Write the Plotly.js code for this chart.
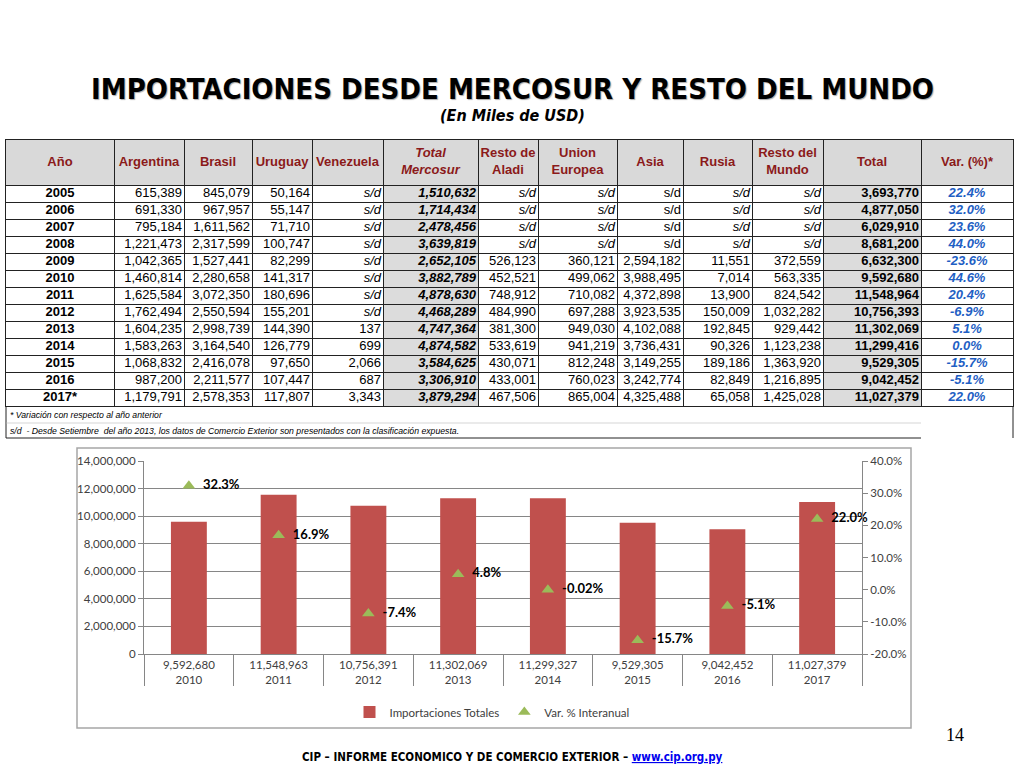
<!DOCTYPE html>
<html>
<head>
<meta charset="utf-8">
<script src="https://cdn.plot.ly/plotly-3.0.1.min.js"></script>
<style>
html,body{margin:0;padding:0;background:#fff;}
#chart{width:1024px;height:768px;}
</style>
</head>
<body>
<div id="chart"></div>
<script>
// ---------- Table data (miles de USD) ----------
var years = ['2005','2006','2007','2008','2009','2010','2011','2012','2013','2014','2015','2016','2017*'];
var argentina = [615389, 691330, 795184, 1221473, 1042365, 1460814, 1625584, 1762494, 1604235, 1583263, 1068832, 987200, 1179791];
var brasil = [845079, 967957, 1611562, 2317599, 1527441, 2280658, 3072350, 2550594, 2998739, 3164540, 2416078, 2211577, 2578353];
var uruguay = [50164, 55147, 71710, 100747, 82299, 141317, 180696, 155201, 144390, 126779, 97650, 107447, 117807];
var venezuela = [null, null, null, null, null, null, null, null, 137, 699, 2066, 687, 3343];
var totalMercosur = [1510632, 1714434, 2478456, 3639819, 2652105, 3882789, 4878630, 4468289, 4747364, 4874582, 3584625, 3306910, 3879294];
var restoAladi = [null, null, null, null, 526123, 452521, 748912, 484990, 381300, 533619, 430071, 433001, 467506];
var unionEuropea = [null, null, null, null, 360121, 499062, 710082, 697288, 949030, 941219, 812248, 760023, 865004];
var asia = [null, null, null, null, 2594182, 3988495, 4372898, 3923535, 4102088, 3736431, 3149255, 3242774, 4325488];
var rusia = [null, null, null, null, 11551, 7014, 13900, 150009, 192845, 90326, 189186, 82849, 65058];
var restoMundo = [null, null, null, null, 372559, 563335, 824542, 1032282, 929442, 1123238, 1363920, 1216895, 1425028];
var total = [3693770, 4877050, 6029910, 8681200, 6632300, 9592680, 11548964, 10756393, 11302069, 11299416, 9529305, 9042452, 11027379];
var varPct = [22.4, 32.0, 23.6, 44.0, -23.6, 44.6, 20.4, -6.9, 5.1, 0.0, -15.7, -5.1, 22.0];
var headers = ['Año','Argentina','Brasil','Uruguay','Venezuela','<i>Total</i><br><i>Mercosur</i>','Resto de<br>Aladi','Union<br>Europea','Asia','Rusia','Resto del<br>Mundo','Total','Var. (%)*'];

// ---------- Chart data ----------
var chartYears = ['2010','2011','2012','2013','2014','2015','2016','2017'];
var chartTotals = [9592680, 11548963, 10756391, 11302069, 11299327, 9529305, 9042452, 11027379];
var chartVar = [32.3, 16.9, -7.4, 4.8, -0.02, -15.7, -5.1, 22.0];
var chartVarLabels = ['32.3%','16.9%','-7.4%','4.8%','-0.02%','-15.7%','-5.1%','22.0%'];
var pctTicks = [-20, -10, 0, 10, 20, 30, 40];

// ---------- layout helpers (positions/styles, not data) ----------
var W = 1024, H = 768;
function px(x){ return x / W; }
function py(y){ return 1 - y / H; }
var colWidths = [108, 70, 68, 60, 71, 95, 60, 79, 66, 69, 71, 98, 92];
var colAlign = ['center','right','right','right','right','right','right','right','right','right','right','right','center'];
var bounds = [0];
colWidths.forEach(function(w){ bounds.push(bounds[bounds.length - 1] + w); });
var tableW = bounds[bounds.length - 1];
var headerRows = 45 / 17;   // header height in row units
var nRows = years.length;
var tblFont = 'Liberation Sans, Arial, sans-serif';

function fmt(v){ return v.toLocaleString('en-US'); }
function col(arr, italicSd){
  return arr.map(function(v){
    if(v === null) return italicSd ? '<i>s/d</i>' : 's/d';
    return fmt(v);
  });
}

var cellVals = [
  years.map(function(y){return '<b>'+y+'</b>';}),
  col(argentina, true),
  col(brasil, true),
  col(uruguay, true),
  col(venezuela, true),
  totalMercosur.map(function(v){return '<b><i>'+fmt(v)+'</i></b>';}),
  col(restoAladi, true),
  col(unionEuropea, true),
  col(asia, false),
  col(rusia, true),
  col(restoMundo, true),
  total.map(function(v){return '<b>'+fmt(v)+'</b>';}),
  varPct.map(function(v){return '<b><i>'+v.toFixed(1)+'%</i></b>';})
];
var cellColors = ['#000','#000','#000','#000','#000','#000','#000','#000','#000','#000','#000','#000','#1f5fc4'];

var traces = [];

// header text
traces.push({
  type: 'scatter', mode: 'text',
  x: headers.map(function(h, i){ return (bounds[i] + bounds[i+1]) / 2; }),
  y: headers.map(function(){ return -headerRows / 2; }),
  text: headers.map(function(h){ return '<b>' + h + '</b>'; }),
  textposition: 'middle center',
  textfont: {family: tblFont, size: 13, color: '#8b1a1a'},
  xaxis: 'x3', yaxis: 'y3', showlegend: false, hoverinfo: 'skip', cliponaxis: false
});

// body columns
cellVals.forEach(function(vals, ci){
  var center = colAlign[ci] === 'center';
  var xpos = center ? (bounds[ci] + bounds[ci+1]) / 2 : bounds[ci+1] - 2;
  traces.push({
    type: 'scatter', mode: 'text',
    x: vals.map(function(){ return xpos; }),
    y: vals.map(function(v, i){ return i + 0.5; }),
    text: vals,
    textposition: center ? 'middle center' : 'middle left',
    textfont: {family: tblFont, size: 13, color: cellColors[ci]},
    xaxis: 'x3', yaxis: 'y3', showlegend: false, hoverinfo: 'skip', cliponaxis: false
  });
});

// chart traces
var chartX = [chartYears, chartTotals.map(fmt)];
traces.push({
  type: 'bar',
  name: 'Importaciones Totales',
  x: chartX,
  y: chartTotals,
  width: 0.4,
  marker: {color: '#c0504d'},
  xaxis: 'x', yaxis: 'y',
  hoverinfo: 'skip'
});
traces.push({
  type: 'scatter',
  mode: 'markers+text',
  name: 'Var. % Interanual',
  x: chartX,
  y: chartVar,
  text: chartVarLabels.map(function(t){ return '\u00a0\u00a0' + t; }),
  textposition: 'middle right',
  textfont: {family: 'Lato, Open Sans, sans-serif', size: 13, color: '#000', weight: 'bold'},
  marker: {symbol: 'triangle-up', size: 11, color: '#9bbb59'},
  xaxis: 'x', yaxis: 'y2',
  cliponaxis: false,
  hoverinfo: 'skip'
});

var chartFont = {family: 'Lato, Open Sans, sans-serif', size: 11.5, color: '#404040'};

var shapes = [
  // table fills (below gridlines)
  {type: 'rect', xref: 'x3', yref: 'y3', layer: 'below', x0: 0, x1: tableW, y0: -headerRows, y1: 0, fillcolor: '#d9d9d9', line: {width: 0}},
  {type: 'rect', xref: 'x3', yref: 'y3', layer: 'below', x0: bounds[5], x1: bounds[6], y0: 0, y1: nRows, fillcolor: '#dcdcdc', line: {width: 0}},
  {type: 'rect', xref: 'x3', yref: 'y3', layer: 'below', x0: bounds[11], x1: bounds[12], y0: 0, y1: nRows, fillcolor: '#dcdcdc', line: {width: 0}},
  // footnote box
  {type: 'line', xref: 'paper', yref: 'paper', x0: px(6), x1: px(6), y0: py(406), y1: py(438), line: {color: '#222', width: 1}},
  {type: 'line', xref: 'paper', yref: 'paper', x0: px(1013), x1: px(1013), y0: py(406), y1: py(438), line: {color: '#222', width: 1}},
  {type: 'line', xref: 'paper', yref: 'paper', x0: px(6), x1: px(921), y0: py(423), y1: py(423), line: {color: '#bbb', width: 0.6}},
  {type: 'line', xref: 'paper', yref: 'paper', x0: px(6), x1: px(921), y0: py(438), y1: py(438), line: {color: '#222', width: 1}},
  // chart outer box
  {type: 'rect', xref: 'paper', yref: 'paper', x0: px(77), x1: px(911), y0: py(728), y1: py(448), line: {color: '#a6a6a6', width: 1.5}, fillcolor: 'rgba(0,0,0,0)'}
];

var layout = {
  width: W, height: H,
  margin: {l: 0, r: 0, t: 0, b: 0},
  paper_bgcolor: '#fff',
  plot_bgcolor: 'rgba(0,0,0,0)',
  showlegend: true,
  legend: {
    orientation: 'h', x: px(492), xanchor: 'center', y: py(712), yanchor: 'middle',
    font: chartFont, traceorder: 'normal', itemwidth: 30
  },
  // chart axes
  xaxis: {
    domain: [px(144), px(862)],
    type: 'multicategory',
    showline: true, linecolor: '#868686', linewidth: 1,
    showdividers: true, dividercolor: '#868686', dividerwidth: 1,
    tickfont: chartFont,
    ticks: '',
    anchor: 'y'
  },
  yaxis: {
    domain: [py(654), py(461)],
    range: [0, 14000000],
    dtick: 2000000,
    tickformat: ',d',
    showgrid: true, gridcolor: '#868686', gridwidth: 1,
    showline: true, linecolor: '#868686',
    ticks: 'outside', ticklen: 5, tickcolor: '#868686',
    tickfont: chartFont,
    zeroline: false,
    anchor: 'x'
  },
  yaxis2: {
    overlaying: 'y', side: 'right', anchor: 'x',
    range: [-20, 40],
    tickmode: 'array',
    tickvals: pctTicks,
    ticktext: pctTicks.map(function(v){ return v.toFixed(1) + '%'; }),
    showgrid: false, zeroline: false,
    showline: true, linecolor: '#868686',
    ticks: 'outside', ticklen: 5, tickcolor: '#868686',
    tickfont: chartFont
  },
  // table axes
  xaxis3: {
    domain: [px(6), px(6 + tableW)],
    range: [0, tableW],
    anchor: 'y3',
    tickmode: 'array', tickvals: bounds.slice(1, -1),
    showgrid: true, gridcolor: '#222', gridwidth: 1,
    showticklabels: false, ticks: '', zeroline: false,
    showline: true, mirror: true, linecolor: '#222', linewidth: 1,
    fixedrange: true
  },
  yaxis3: {
    domain: [py(406), py(140)],
    range: [nRows, -headerRows],
    anchor: 'x3',
    tickmode: 'array', tickvals: years.map(function(y, i){ return i; }),
    showgrid: true, gridcolor: '#222', gridwidth: 1,
    showticklabels: false, ticks: '', zeroline: false,
    showline: true, mirror: true, linecolor: '#222', linewidth: 1,
    fixedrange: true
  },
  shapes: shapes,
  annotations: [
    {xref: 'paper', yref: 'paper', x: 0.5, y: py(89), xanchor: 'center', yanchor: 'middle', showarrow: false,
     text: '<b>IMPORTACIONES DESDE MERCOSUR Y RESTO DEL MUNDO</b>',
     font: {family: 'DejaVu Sans Condensed, DejaVu Sans, sans-serif', size: 29, color: '#000', shadow: '1px 1px 1px #aaa'}},
    {xref: 'paper', yref: 'paper', x: 0.5, y: py(116), xanchor: 'center', yanchor: 'middle', showarrow: false,
     text: '<b><i>(En Miles de USD)</i></b>',
     font: {family: 'DejaVu Sans Condensed, DejaVu Sans, sans-serif', size: 16, color: '#000'}},
    {xref: 'paper', yref: 'paper', x: px(8), y: py(415), xanchor: 'left', yanchor: 'middle', showarrow: false,
     text: '<i>* Variación con respecto al año anterior</i>',
     font: {family: tblFont, size: 8.7, color: '#000'}},
    {xref: 'paper', yref: 'paper', x: px(8), y: py(431), xanchor: 'left', yanchor: 'middle', showarrow: false,
     text: '<i>s/d  - Desde Setiembre  del año 2013, los datos de Comercio Exterior son presentados con la clasificación expuesta.</i>',
     font: {family: tblFont, size: 8.7, color: '#000'}},
    {xref: 'paper', yref: 'paper', x: px(955), y: py(735), xanchor: 'center', yanchor: 'middle', showarrow: false,
     text: '14',
     font: {family: 'Liberation Serif, Times New Roman, serif', size: 18, color: '#000'}},
    {xref: 'paper', yref: 'paper', x: px(512), y: py(757), xanchor: 'center', yanchor: 'middle', showarrow: false,
     text: '<b>CIP – INFORME ECONOMICO Y DE COMERCIO EXTERIOR – <span style="color:#0000ee;text-decoration:underline">www.cip.org.py</span></b>',
     font: {family: 'Liberation Sans Narrow, DejaVu Sans Condensed, sans-serif', size: 11.5, color: '#000'}}
  ]
};

Plotly.newPlot('chart', traces, layout, {displayModeBar: false, staticPlot: true});
</script>
</body>
</html>
